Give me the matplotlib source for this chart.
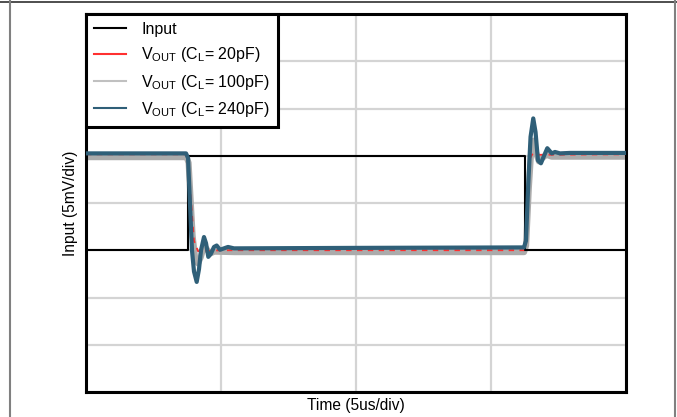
import numpy as np
import matplotlib.pyplot as plt
from matplotlib.lines import Line2D

plt.rcParams['font.family'] = ['Liberation Sans', 'DejaVu Sans']
plt.rcParams['mathtext.fontset'] = 'custom'
plt.rcParams['mathtext.rm'] = 'Liberation Sans'
plt.rcParams['mathtext.it'] = 'Liberation Sans'

# time in divisions (5us/div), amplitude in divisions (5mV/div)
t_in = [0, 0.756, 0.756, 3.25, 3.25, 4.0]
v_in = [3.0, 3.0, 5.0, 5.0, 3.0, 3.0]

t_20 = [0, 0.745, 0.76, 0.80, 0.83, 1.0, 3.25, 3.255, 3.28, 3.31, 3.35, 4.0]
v_20 = [5.03, 5.03, 4.7, 3.2, 2.98, 3.0, 3.0, 3.2, 4.9, 5.05, 5.02, 5.03]

t_100 = [0, 0.745, 0.76, 0.79, 0.81, 0.83, 0.85, 0.87, 0.89, 0.92, 0.95,
         1.1, 3.245, 3.26, 3.28, 3.30, 3.315, 3.33, 3.355, 3.38, 3.41,
         3.45, 4.0]
v_100 = [4.97, 4.97, 4.85, 3.3, 2.8, 2.72, 2.85, 3.05, 3.04, 2.93, 2.97,
         2.96, 2.96, 3.1, 4.3, 5.2, 5.32, 5.1, 4.88, 4.95, 5.02, 4.98, 4.98]

t_240 = [0, 0.741, 0.756, 0.770, 0.785, 0.80, 0.82, 0.837, 0.852, 0.874,
         0.889, 0.906, 0.926, 0.948, 0.968, 0.993, 1.022, 1.052, 1.096,
         2.0, 3.244, 3.259, 3.276, 3.293, 3.313, 3.33, 3.348, 3.37, 3.393,
         3.417, 3.45, 3.474, 3.511, 3.585, 4.0]
v_240 = [5.05, 5.05, 4.95, 4.0, 3.0, 2.55, 2.33, 2.6, 3.0, 3.28,
         3.15, 2.86, 2.93, 3.07, 3.10, 3.01, 3.04, 3.07, 3.04,
         3.05, 3.06, 3.2, 4.4, 5.4, 5.79, 5.5, 4.9, 4.84, 5.0,
         5.16, 5.05, 5.08, 5.05, 5.06, 5.06]

labels = ['Input',
          r'V$_{\mathrm{OUT}}$ (C$_{\mathrm{L}}$= 20pF)',
          r'V$_{\mathrm{OUT}}$ (C$_{\mathrm{L}}$= 100pF)',
          r'V$_{\mathrm{OUT}}$ (C$_{\mathrm{L}}$= 240pF)']

fig = plt.figure(figsize=(6.77, 4.17), dpi=100)
ax = fig.add_axes([86/677, 25/417, 540/677, 378/417])

ax.plot(t_in, v_in, color='black', lw=1.5, zorder=3)
ax.plot(t_100, v_100, color='#ababab', lw=4.4, zorder=2, solid_joinstyle='round')
ax.plot(t_20, v_20, color='#ff3030', lw=1.3, ls=(0, (3, 3)), zorder=2.5)
ax.plot(t_240, v_240, color='#2f5f78', lw=3.0, zorder=4, solid_joinstyle='round')

ax.set_xlim(0, 4)
ax.set_ylim(0, 8)
ax.set_xticks(np.arange(0, 5, 1))
ax.set_yticks(np.arange(0, 9, 1))
ax.tick_params(length=0, labelbottom=False, labelleft=False)
ax.grid(True, color='#d4d4d4', lw=1.6)
ax.set_axisbelow(True)
for s in ax.spines.values():
    s.set_linewidth(2.2)
    s.set_color('black')

ax.set_xlabel('Time (5us/div)', fontsize=11.2, labelpad=4)
ax.set_ylabel('Input (5mV/div)', fontsize=11.2, labelpad=6)

handles = [Line2D([], [], color='black', lw=1.5),
           Line2D([], [], color='#ff3030', lw=1.5),
           Line2D([], [], color='#c0c0c0', lw=1.5),
           Line2D([], [], color='#2f5f78', lw=1.5)]
leg = ax.legend(handles, labels, loc='upper left', fontsize=11.5,
                fancybox=False, framealpha=1, edgecolor='black',
                handlelength=2.0, handletextpad=0.95, borderpad=0.5,
                labelspacing=0.52, borderaxespad=0)
leg.get_frame().set_linewidth(2.2)
leg.set_zorder(10)

# outer frame of the picture
fig.add_artist(Line2D([0, 1], [1 - 2/417, 1 - 2/417], color='#303030', lw=1.2))
fig.add_artist(Line2D([10/677, 10/677], [0, 1], color='#808080', lw=1.5))
fig.add_artist(Line2D([675/677, 675/677], [0, 1], color='#808080', lw=1.5))

fig.savefig('out.png', dpi=100)
